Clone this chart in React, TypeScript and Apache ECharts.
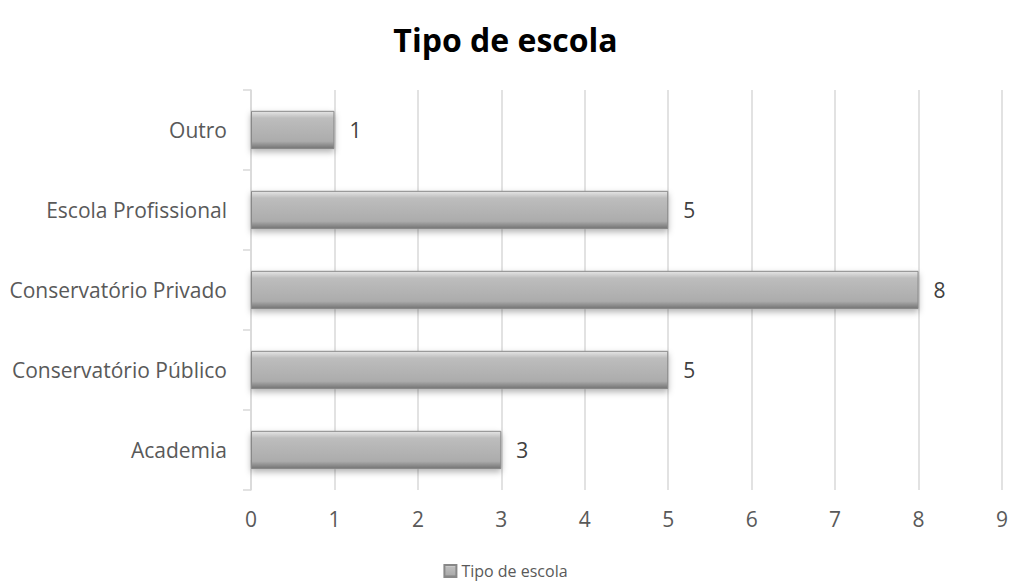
import React, { useEffect, useRef } from "react";
import * as echarts from "echarts";

const categories = ["Academia", "Conservatório Público", "Conservatório Privado", "Escola Profissional", "Outro"];
const values = [3, 5, 8, 5, 1];
const seriesName = "Tipo de escola";
const titleText = "Tipo de escola";

export default function App() {
  const ref = useRef<HTMLDivElement>(null);
  useEffect(() => {
    const chart = echarts.init(ref.current!, null, { renderer: "svg" });
    const font = "'Open Sans', 'Noto Sans', sans-serif";
    const barColor = new echarts.graphic.LinearGradient(0, 0, 0, 1, [
      { offset: 0, color: "#e6e6e6" },
      { offset: 0.18, color: "#bdbdbd" },
      { offset: 0.8, color: "#acacac" },
      { offset: 1, color: "#727272" },
    ]);
    chart.setOption({
      animation: false,
      backgroundColor: "#ffffff",
      title: {
        text: titleText,
        left: "center",
        top: 18,
        textStyle: { fontFamily: font, fontSize: 32, fontWeight: "bold", color: "#000" },
      },
      legend: {
        bottom: 2,
        left: "center",
        itemWidth: 12,
        itemHeight: 12,
        itemGap: 4,
        icon: "rect",
        textStyle: { fontFamily: font, fontSize: 16, color: "#595959" },
        data: [seriesName],
      },
      grid: { left: 251, right: 7, top: 90, bottom: 96 },
      xAxis: {
        type: "value",
        min: 0,
        max: 9,
        interval: 1,
        axisLine: { show: false },
        axisTick: { show: false },
        splitLine: { show: true, lineStyle: { color: "#d9d9d9", width: 1.5 } },
        axisLabel: { fontFamily: font, fontSize: 21, color: "#595959", margin: 18 },
      },
      yAxis: {
        type: "category",
        data: categories,
        axisLine: { show: true, lineStyle: { color: "#d9d9d9", width: 1.5 } },
        axisTick: { show: true, length: 8, lineStyle: { color: "#d9d9d9", width: 1.5 } },
        axisLabel: { fontFamily: font, fontSize: 21, color: "#595959", margin: 24 },
      },
      series: [
        {
          name: seriesName,
          type: "bar",
          data: values,
          barWidth: "48%",
          itemStyle: {
            color: barColor,
            borderColor: "#888888",
            borderWidth: 1,
            shadowColor: "rgba(0,0,0,0.3)",
            shadowBlur: 6,
            shadowOffsetY: 3,
          },
          label: {
            show: true,
            position: "right",
            distance: 15,
            fontFamily: font,
            fontSize: 21,
            color: "#404040",
          },
        },
      ],
    });
    return () => chart.dispose();
  }, []);
  return (
    <div
      ref={ref}
      style={{ position: "fixed", left: 0, top: 0, width: 1011, height: 586 }}
    />
  );
}
